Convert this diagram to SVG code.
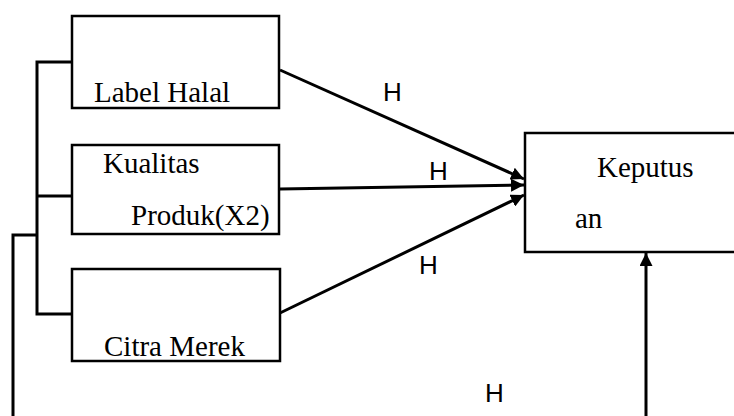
<svg xmlns="http://www.w3.org/2000/svg" width="734" height="416" viewBox="0 0 734 416">
<defs>
<style>
.box{fill:#fff;stroke:#000;stroke-width:2.5}
.t{font-family:"Liberation Serif","Times New Roman",serif;font-size:29px;fill:#000}
.h{font-family:"Liberation Sans",Arial,sans-serif;font-size:26px;fill:#000}
.c{stroke:#000;stroke-width:3;fill:none}
</style>
<marker id="ah" viewBox="0 0 12 12" refX="12" refY="6" markerWidth="13" markerHeight="13" markerUnits="userSpaceOnUse" orient="auto">
<path d="M0,0 L12,6 L0,12 Z" fill="#000"/>
</marker>
</defs>
<rect width="734" height="416" fill="#fff"/>
<g id="connectors">
<polyline class="c" points="72,62 37,62 37,314 72,314"/>
<line class="c" x1="37" y1="196" x2="72" y2="196"/>
<polyline class="c" points="37,235 13,235 13,420"/>
<line class="c" x1="280" y1="70" x2="524" y2="179" marker-end="url(#ah)"/>
<line class="c" x1="280" y1="189" x2="524" y2="185" marker-end="url(#ah)"/>
<line class="c" x1="280" y1="313" x2="524" y2="195" marker-end="url(#ah)"/>
<line class="c" x1="646" y1="420" x2="646" y2="253" marker-end="url(#ah)"/>
<text class="h" x="383" y="101">H</text>
<text class="h" x="429" y="180">H</text>
<text class="h" x="419" y="274">H</text>
<text class="h" x="485" y="402">H</text>
</g>
<g id="label-halal">
<rect class="box" x="72" y="16" width="207" height="92"/>
<text class="t" x="94" y="102">Label Halal</text>
</g>
<g id="kualitas-produk">
<rect class="box" x="72" y="145" width="207" height="89"/>
<text class="t" x="103" y="173">Kualitas</text>
<text class="t" x="131" y="225">Produk(X2)</text>
</g>
<g id="citra-merek">
<rect class="box" x="72" y="269" width="208" height="92"/>
<text class="t" x="104" y="356">Citra Merek</text>
</g>
<g id="keputusan">
<rect class="box" x="525" y="133" width="215" height="119"/>
<text class="t" x="597" y="177">Keputus</text>
<text class="t" x="575" y="228">an</text>
</g>
</svg>
